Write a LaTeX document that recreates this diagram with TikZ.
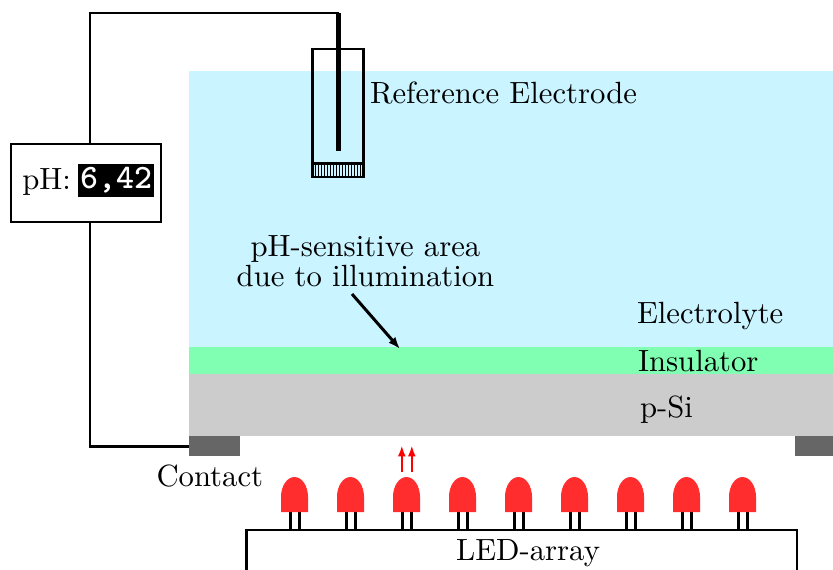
\documentclass[tikz,border=0pt]{standalone}
\usetikzlibrary{arrows.meta}
\definecolor{elyte}{RGB}{202,244,255}
\definecolor{insul}{RGB}{128,255,178}
\definecolor{psi}{RGB}{204,204,204}
\definecolor{cont}{RGB}{102,102,102}
\definecolor{ledred}{RGB}{255,45,45}
\tikzset{
  wire/.style={draw=black,line width=0.72pt},
  lbl/.style={inner sep=0,outer sep=0,text=black,font=\fontsize{10.23}{10}\selectfont},
  legline/.style={draw=black,line width=1pt},
  ray/.style={draw=red,line width=0.65pt,-{Latex[length=3.6pt,width=2.6pt]}},
}
\begin{document}
\begin{tikzpicture}[x=0.3333pt,y=-0.3333pt]
\useasboundingbox (0,0) rectangle (833,570);
\fill[elyte] (189,71) rectangle (833,347);
\fill[insul] (189,347) rectangle (833,374);
\fill[psi] (189,374) rectangle (833,436);
\fill[cont] (189,436) rectangle (240,456);
\fill[cont] (795,436) rectangle (833,456);
\coordinate (contactL) at (189,446.5);
% LED array box
\draw[wire] (797,570) |- (246.5,530) -- (246.5,570);
\node[lbl] (ledarray) at (528,553) {LED-array};
% LEDs
\foreach \i in {0,...,8}{
  \pgfmathsetmacro{\cx}{294.5+56*\i}
  \draw[legline] (\cx-4.5,512) -- (\cx-4.5,530);
  \draw[legline] (\cx+4.5,512) -- (\cx+4.5,530);
  \fill[ledred] (\cx-13.5,512) -- (\cx-13.5,497) arc[start angle=180,end angle=0,x radius=13.5,y radius=-20] -- (\cx+13.5,512) -- cycle;
}
% rays
\coordinate (r1a) at (401.8,472); \coordinate (r1b) at (401.8,445.5);
\coordinate (r2a) at (411.8,472); \coordinate (r2b) at (411.8,445.5);
\draw[ray] (r1a) -- (r1b);
\draw[ray] (r2a) -- (r2b);
% reference electrode
\node[draw=black,line width=0.72pt,inner sep=0,outer sep=0,minimum width=17pt,minimum height=42.67pt,anchor=north west] (refel) at (312.5,49) {};
\draw[wire] (312.5,163.5) -- (363.5,163.5);
\foreach \x in {315,318,...,362}{\draw[black,line width=0.25pt] (\x,164) -- (\x,177);}
\coordinate (wtop) at (338.5,13);
\coordinate (wbot) at (338.5,151);
\draw[black,line width=1.35pt] (wtop) -- (wbot);
\node[lbl,anchor=west] (reflabel) at (370,93) {Reference Electrode};
% pH meter
\node[draw=black,line width=0.72pt,fill=white,inner sep=0,outer sep=0,minimum width=50pt,minimum height=26pt,anchor=north west] (meter) at (11,144) {};
\node[lbl,anchor=east] (phtxt) at (71,181.5) {pH:};
\node[fill=black,text=white,inner sep=0,outer sep=0,minimum width=25.4pt,minimum height=11pt,anchor=west,font=\ttfamily\bfseries\fontsize{11.4}{12}\selectfont] (phval) at (78,180) {6,42};
\coordinate (mt) at (90,144);
\coordinate (mb) at (90,222);
\draw[wire] (mt) |- (wtop);
\draw[wire] (mb) |- (contactL);
% labels
\node[lbl,align=center] (area) at (365.5,261) {pH-sensitive area\\due to illumination};
\coordinate (areatip) at (400,349);
\draw[black,line width=1pt,-{Latex[length=4pt,width=3pt]}] (352,294) -- (areatip);
\node[lbl,anchor=west] (e) at (637,316) {Electrolyte};
\node[lbl,anchor=west] (i) at (638,361) {Insulator};
\node[lbl,anchor=west] (p) at (640,410) {p-Si};
\node[lbl,anchor=west] (c) at (156.5,476) {Contact};
\end{tikzpicture}
\end{document}
